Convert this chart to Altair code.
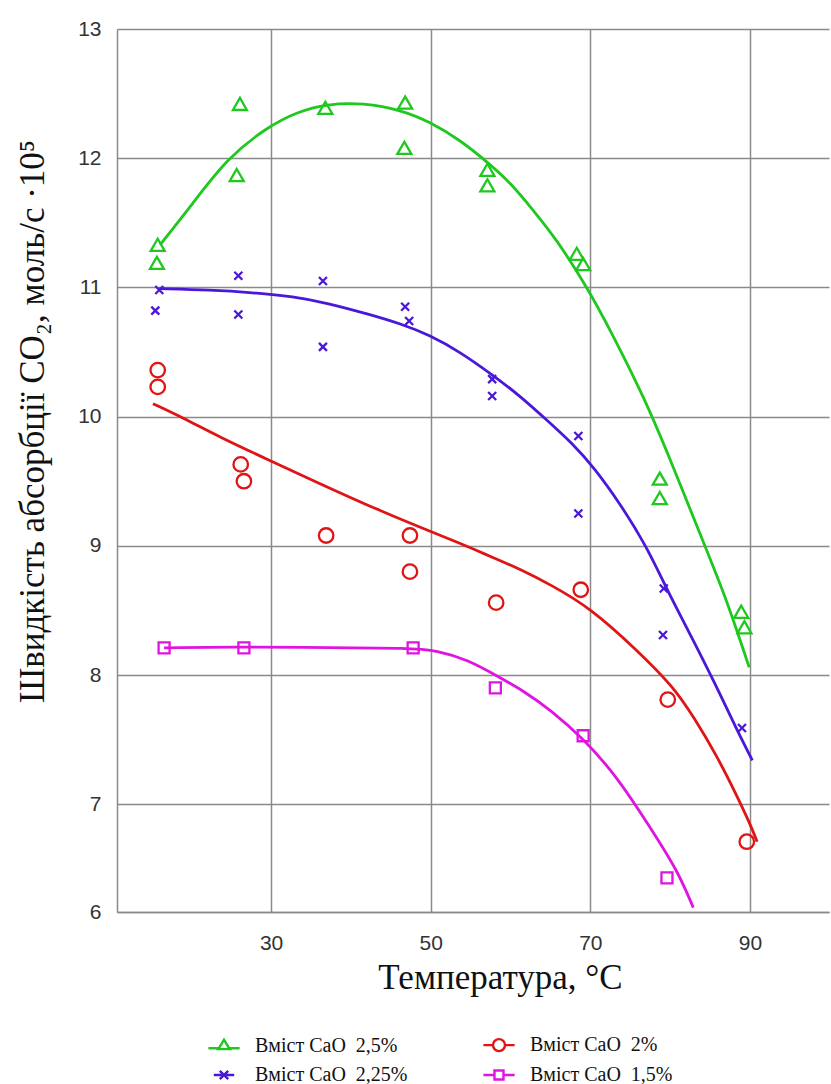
import altair as alt
import pandas as pd

# ---- series (legend is filled column by column, 2 columns) ----
series = ["Вміст CaO\u00a0 2,5%", "Вміст CaO\u00a0 2,25%", "Вміст CaO\u00a0 2%", "Вміст CaO\u00a0 1,5%"]
colors = ["#1ec81e", "#4a18d8", "#e01414", "#e014e0"]
point_shapes = ["triangle-up", "M-1,-1L1,1M-1,1L1,-1", "circle", "square"]
point_sizes = [196, 64, 210, 121]
legend_paths = [
    "M-2.6,0.45L-0.75,0.45M0.75,0.45L2.6,0.45M-0.95,0.6L0,-0.95L0.95,0.6Z",
    "M-1.7,0L1.7,0M-0.7,-0.7L0.7,0.7M-0.7,0.7L0.7,-0.7",
    "M-2.6,0L-1,0M1,0L2.6,0M-1,0A1,1 0 1,1 1,0A1,1 0 1,1 -1,0Z",
    "M-2.6,0L-0.75,0M0.75,0L2.6,0M-0.75,-0.75L0.75,-0.75L0.75,0.75L-0.75,0.75Z",
]

# ---- measured points ----
p25_x = [15.8, 15.7, 26.1, 25.7, 36.8, 46.8, 46.7, 57.1, 57.1, 68.3, 69.1, 78.7, 78.7, 88.9, 89.3]
p25_y = [11.33, 11.19, 12.42, 11.87, 12.39, 12.43, 12.08, 11.91, 11.79, 11.26, 11.18, 9.52, 9.37, 8.49, 8.37]

p225_x = [16.0, 15.5, 25.9, 25.9, 36.5, 36.5, 46.8, 47.3, 57.7, 57.7, 68.5, 68.5, 79.2, 79.1, 89.0]
p225_y = [10.98, 10.82, 11.09, 10.79, 11.05, 10.54, 10.85, 10.74, 10.29, 10.16, 9.85, 9.25, 8.67, 8.31, 7.59]

p2_x = [15.8, 15.8, 26.2, 26.6, 36.9, 47.4, 47.4, 58.2, 68.8, 79.7, 89.6]
p2_y = [10.36, 10.23, 9.63, 9.50, 9.08, 9.08, 8.80, 8.56, 8.66, 7.81, 6.71]

p15_x = [16.6, 26.6, 47.8, 58.1, 69.1, 79.6]
p15_y = [8.21, 8.21, 8.21, 7.90, 7.53, 6.43]

# ---- fitted curves ----
f25_x = [16.1, 20.2, 24.5, 29.5, 33.3, 37.0, 41.5, 46.5, 49.9, 53.7, 57.1, 60.0, 62.8, 65.8, 69.6, 72.5, 76.9, 80.4, 84.4, 87.1, 89.9]
f25_y = [11.33, 11.65, 12.00, 12.24, 12.36, 12.42, 12.43, 12.37, 12.28, 12.14, 11.97, 11.81, 11.60, 11.37, 11.00, 10.67, 10.13, 9.61, 8.99, 8.58, 8.06]

f225_x = [16.0, 22.4, 27.7, 32.8, 37.0, 42.4, 46.2, 49.9, 53.7, 57.8, 61.2, 64.6, 67.8, 70.4, 73.7, 77.1, 79.6, 82.9, 86.6, 88.4, 90.3]
f225_y = [10.99, 10.98, 10.96, 10.93, 10.88, 10.79, 10.72, 10.63, 10.50, 10.32, 10.16, 9.97, 9.79, 9.61, 9.33, 8.99, 8.66, 8.27, 7.81, 7.57, 7.34]

f2_x = [15.2, 19.0, 23.6, 29.5, 35.8, 43.3, 49.6, 53.7, 57.4, 61.2, 65.0, 70.0, 75.9, 80.4, 82.9, 85.9, 88.4, 90.0, 90.9]
f2_y = [10.10, 9.99, 9.84, 9.67, 9.49, 9.28, 9.12, 9.02, 8.92, 8.82, 8.70, 8.52, 8.19, 7.91, 7.68, 7.37, 7.06, 6.85, 6.71]

f15_x = [16.6, 28.6, 37.0, 47.4, 50.8, 54.6, 58.7, 61.8, 65.0, 69.1, 73.4, 77.5, 80.9, 82.9]
f15_y = [8.21, 8.22, 8.21, 8.21, 8.19, 8.12, 7.98, 7.87, 7.73, 7.51, 7.21, 6.82, 6.49, 6.20]

# ---- axes ----
x_domain = [10.7, 99.9]
x_ticks = [30, 50, 70, 90]
y_domain = [6.166, 13]
y_ticks = [6.166, 7, 8, 9, 10, 11, 12, 13]

pts = pd.concat([
    pd.DataFrame({"t": p25_x, "v": p25_y, "s": series[0]}),
    pd.DataFrame({"t": p225_x, "v": p225_y, "s": series[1]}),
    pd.DataFrame({"t": p2_x, "v": p2_y, "s": series[2]}),
    pd.DataFrame({"t": p15_x, "v": p15_y, "s": series[3]}),
])
fits = pd.concat([
    pd.DataFrame({"t": f25_x, "v": f25_y, "s": series[0]}),
    pd.DataFrame({"t": f225_x, "v": f225_y, "s": series[1]}),
    pd.DataFrame({"t": f2_x, "v": f2_y, "s": series[2]}),
    pd.DataFrame({"t": f15_x, "v": f15_y, "s": series[3]}),
])

AXIS_LABEL_FONT = "Liberation Sans Narrow, Liberation Sans, sans-serif"
SERIF = "Liberation Serif"

xenc = alt.X("t:Q", scale=alt.Scale(domain=x_domain, nice=False, zero=False),
             axis=alt.Axis(values=x_ticks, title="Температура, °C", titleX=383, titleY=76,
                           titleBaseline="alphabetic", titleAlign="center", labelPadding=20,
                           labelFont=AXIS_LABEL_FONT, labelFontSize=21))
yenc = alt.Y("v:Q", scale=alt.Scale(domain=y_domain, nice=False, zero=False),
             axis=alt.Axis(values=y_ticks, labelExpr="round(datum.value)",
                           title="Швидкість абсорбції CO₂, моль/с ·10⁵",
                           titleX=-74, titleY=392, titleBaseline="alphabetic",
                           titleAlign="center", titleAngle=270, labelPadding=16,
                           labelFont=AXIS_LABEL_FONT, labelFontSize=21))

def cscale():
    return alt.Scale(domain=series, range=colors)

leg = alt.Legend(orient="none", legendX=97, legendY=1006, columns=2, title=None,
                 symbolSize=144, symbolStrokeWidth=2.4, symbolOpacity=1,
                 labelFont=SERIF, labelLimit=400,
                 labelFontSize=20, labelColor="#111", labelOffset=21, columnPadding=70,
                 rowPadding=9)

lines = alt.Chart(fits).mark_line(strokeWidth=2.8, interpolate="basis").encode(
    x=xenc, y=yenc,
    color=alt.Color("s:N", scale=cscale(), legend=None),
    detail="s:N",
)

points = alt.Chart(pts).mark_point(filled=False, strokeWidth=2.3, opacity=1).encode(
    x=xenc, y=yenc,
    color=alt.Color("s:N", scale=cscale(), legend=None),
    shape=alt.Shape("s:N", scale=alt.Scale(domain=series, range=point_shapes), legend=None),
    size=alt.Size("s:N", scale=alt.Scale(type="ordinal", domain=series, range=point_sizes), legend=None),
)

legend_layer = alt.Chart(pts).mark_point(filled=False, opacity=0).encode(
    x=xenc, y=yenc,
    color=alt.Color("s:N", scale=cscale(), legend=leg),
    shape=alt.Shape("s:N", scale=alt.Scale(domain=series, range=legend_paths), legend=leg),
)

chart = alt.layer(lines, points, legend_layer).resolve_scale(
    color="independent", shape="independent"
).properties(
    width=712, height=883,
    autosize="none",
    padding={"left": 117, "top": 29, "right": 2, "bottom": 172},
).configure(
    style={"guide-label": {"font": SERIF, "fontSize": 20}}
).configure_view(stroke=None).configure_axis(
    grid=True, gridColor="#8a8a8a", gridWidth=1.5, gridOpacity=1,
    domainColor="#8a8a8a", domainWidth=1.5, ticks=False,
    labelFont=AXIS_LABEL_FONT, labelFontSize=21, labelColor="#333",
    titleFont=SERIF, titleFontSize=35, titleFontWeight="normal", titleColor="#111",
).configure_legend(
    labelFont=SERIF, labelFontSize=20, labelLimit=400, labelColor="#111",
)

chart.save("out.html", embed_options={"renderer": "svg", "actions": False})
